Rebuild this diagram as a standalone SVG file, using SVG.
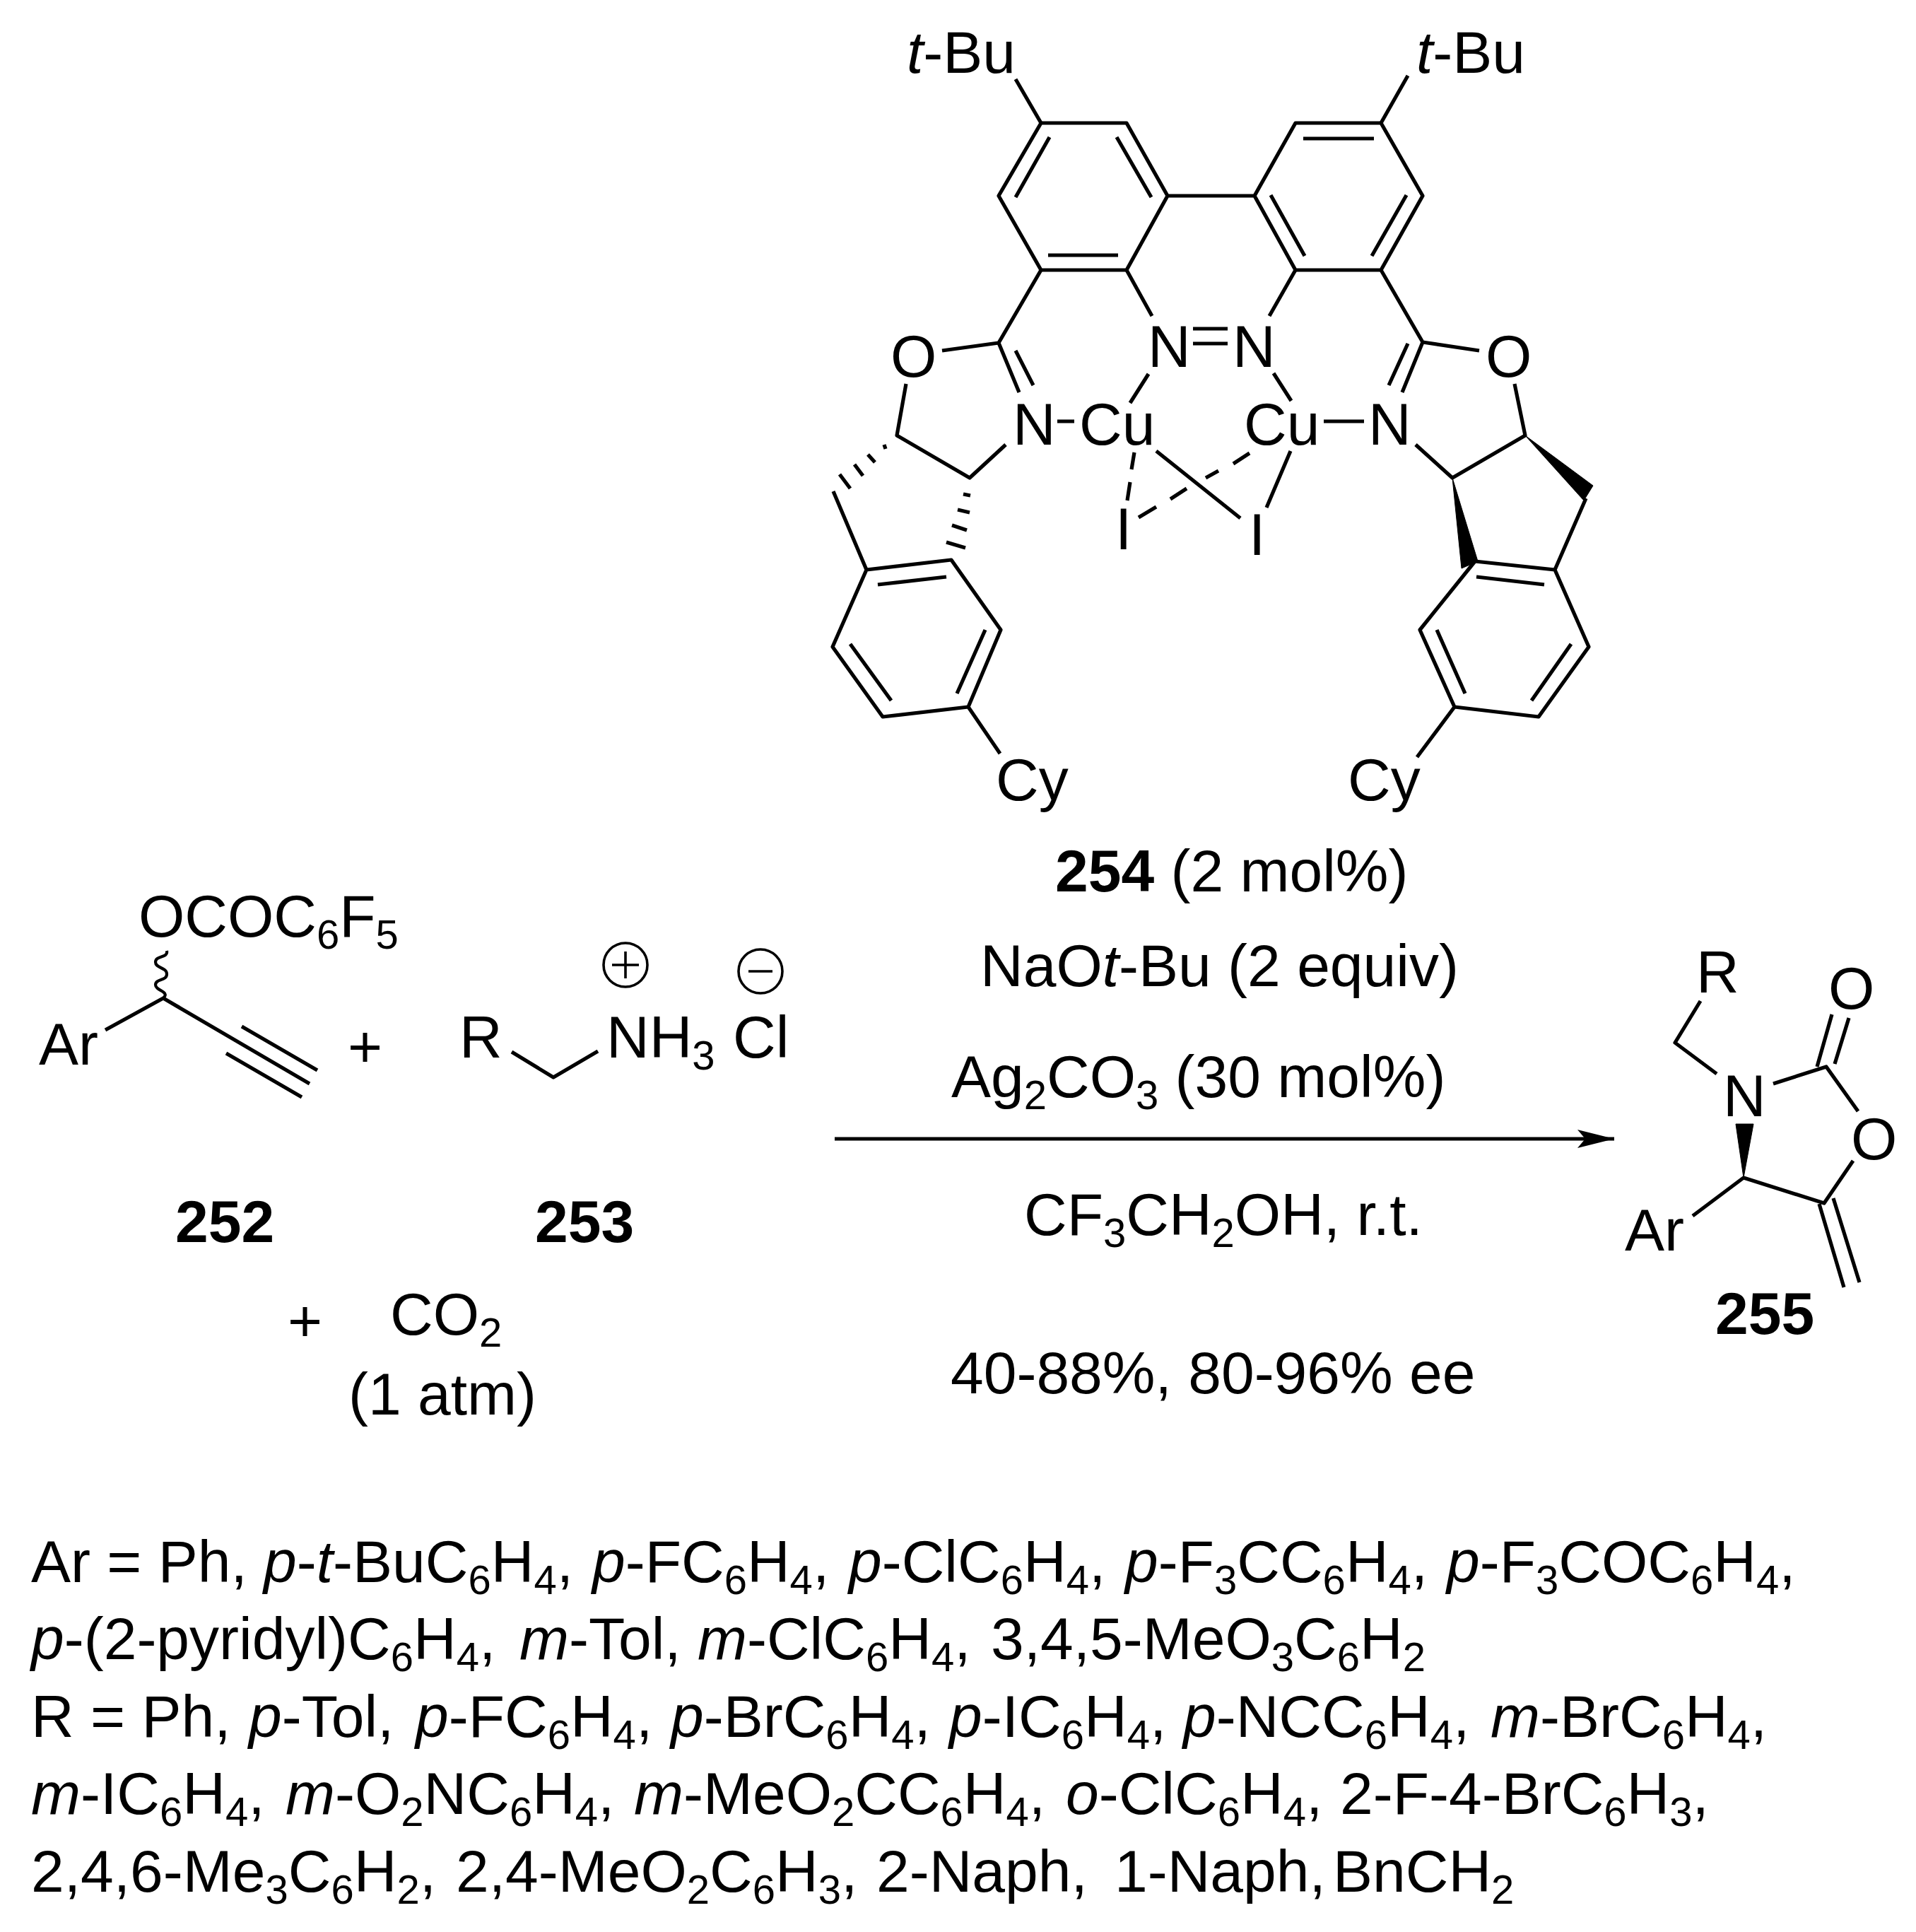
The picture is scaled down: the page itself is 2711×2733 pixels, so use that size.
<svg xmlns="http://www.w3.org/2000/svg" width="2711" height="2733" viewBox="0 0 2711 2733">
<style>
text{font-family:"Liberation Sans",Arial,sans-serif;font-size:84px;fill:#000;white-space:pre}
.s{font-size:58px;baseline-shift:-17px}
.i{font-style:italic}
.bd{font-weight:bold}
.b{fill:none;stroke:#000;stroke-width:5.2;stroke-linecap:butt;stroke-linejoin:round}
.t{stroke-width:3.6}
.w{fill:#000;stroke:#000;stroke-width:1;stroke-linejoin:round}
</style>
<defs>
<marker id="ah" markerUnits="userSpaceOnUse" markerWidth="56" markerHeight="30" refX="52" refY="15" orient="auto"><path d="M0 2L52 15L0 28L11 15Z" fill="#000"/></marker>
</defs>
<rect width="2711" height="2733" fill="#fff"/>
<g id="catalyst-254">
<path class="b" d="M1473 174H1594L1652 277L1594 382H1473L1413 277ZM1652 277H1775L1833 174H1954L2013 277L1954 382H1833L1775 277"/>
<path class="b" d="M1485 194L1437 279M1580 194L1629 279M1483 361H1582M1844 196H1944M1798 276L1846 362M1990 276L1941 362"/>
<path class="b" d="M1473 174L1437 112M1954 174L1992 107M1473 382L1413 485L1333 496M1594 382L1630 447M1833 382L1796 447M1954 382L2013 484L2093 496"/>
<path class="b" d="M1413 485L1442 555M1437 496L1462 545M2013 484L1984 555M1992 486L1965 545"/>
<path class="b" d="M1688 465H1737M1688 486H1737M1625 529L1599 570M1802 528L1827 567M1496 596H1520M1873 596H1930"/>
<path class="b" d="M1282 543L1269 616L1372 676L1423 629M1179 695L1226 806L1346 792L1416 891L1370 1000L1249 1014L1178 915L1226 806"/>
<path class="b" d="M1242 827L1339 816M1394 891L1354 981M1261 991L1203 911M1370 1000L1415 1066"/>
<path class="b" d="M1251 629L1253 635M1228 643L1238 654M1209 657L1221 673M1188 671L1203 691M1363 699L1373 701M1355 721L1372 725M1347 743L1368 750M1339 767L1366 775"/>
<path class="b" d="M1605 640L1601 664M1599 682L1595 708M1636 638L1755 733M1768 641L1745 656M1724 666L1706 676M1679 691L1656 706M1636 717L1611 732M1826 638L1792 718"/>
<path class="b" d="M2003 629L2055 676L2158 616L2143 543M2244 705L2200 806L2087 794L2009 891L2058 1000L2177 1014L2248 915L2200 806"/>
<path class="b" d="M2089 816L2185 827M2223 911L2167 991M2033 891L2073 981M2058 1000L2005 1071"/>
<path class="w" d="M2158 616L2254 687L2241 708ZM2055 676L2091 794L2068 804Z"/>
<text x="1283" y="103"><tspan class="i">t</tspan>-Bu</text>
<text x="2004" y="103"><tspan class="i">t</tspan>-Bu</text>
<text x="1260" y="533">O</text><text x="2102" y="533">O</text>
<text x="1624" y="519">N</text><text x="1744" y="519">N</text>
<text x="1433" y="629">N</text><text x="1527" y="629">Cu</text>
<text x="1760" y="629">Cu</text><text x="1936" y="629">N</text>
<text x="1578" y="777">I</text><text x="1767" y="785">I</text>
<text x="1409" y="1132">Cy</text><text x="1907" y="1132">Cy</text>
</g>
<g id="reactant-252">
<path class="b" d="M149 1457L231 1412L438 1533M342 1452L449 1514M320 1490L427 1552"/>
<path class="b" style="stroke-width:4.2" d="M231 1412C241 1402 220 1402 220 1393C220 1384 236 1388 236 1378C236 1368 220 1370 220 1361C220 1351 238 1356 236 1345"/>
<text x="196" y="1325">OCOC<tspan class="s">6</tspan>F<tspan class="s">5</tspan></text>
<text x="55" y="1506">Ar</text>
<text x="248" y="1757" class="bd">252</text>
</g>
<text id="plus-1" x="492" y="1509">+</text>
<g id="reactant-253">
<path class="b" d="M724 1488L783 1524L846 1487"/>
<circle class="b t" cx="885" cy="1365" r="31"/><path class="b t" d="M866 1365H904M885 1346V1384"/>
<circle class="b t" cx="1076" cy="1374" r="31"/><path class="b t" d="M1059 1374H1093"/>
<text x="650" y="1496">R</text>
<text x="858" y="1496">NH<tspan class="s">3</tspan></text>
<text x="1037" y="1496">Cl</text>
<text x="757" y="1757" class="bd">253</text>
</g>
<g id="co2">
<text x="407" y="1897">+</text>
<text x="552" y="1888">CO<tspan class="s">2</tspan></text>
<text x="493" y="2001">(1 atm)</text>
</g>
<g id="connectors">
<path d="M1181 1611H2284" fill="none" stroke="#000" stroke-width="5" marker-end="url(#ah)"/>
</g>
<g id="conditions">
<text x="1493" y="1261"><tspan class="bd">254</tspan> (2 mol%)</text>
<text x="1387" y="1395">NaO<tspan class="i">t</tspan>-Bu (2 equiv)</text>
<text x="1346" y="1552">Ag<tspan class="s">2</tspan>CO<tspan class="s">3</tspan> (30 mol%)</text>
<text x="1449" y="1747">CF<tspan class="s">3</tspan>CH<tspan class="s">2</tspan>OH, r.t.</text>
<text x="1345" y="1971">40-88%, 80-96% ee</text>
</g>
<g id="product-255">
<path class="b" d="M2406 1416L2370 1475L2429 1519M2509 1533L2584 1509L2629 1572M2622 1642L2581 1702L2467 1666L2395 1720"/>
<path class="b" d="M2571 1509L2592 1435M2596 1505L2616 1440M2574 1703L2609 1821M2594 1695L2631 1814"/>
<path class="w" d="M2467 1666L2456 1590H2481Z"/>
<text x="2400" y="1404">R</text>
<text x="2587" y="1427">O</text>
<text x="2438" y="1579">N</text>
<text x="2619" y="1640">O</text>
<text x="2299" y="1769">Ar</text>
<text x="2427" y="1887" class="bd">255</text>
</g>
<g id="substituents">
<text y="2238"><tspan x="44">Ar = Ph,</tspan><tspan x="373" class="i">p</tspan>-<tspan class="i">t</tspan>-BuC<tspan class="s">6</tspan>H<tspan class="s">4</tspan>,<tspan x="838" class="i">p</tspan>-FC<tspan class="s">6</tspan>H<tspan class="s">4</tspan>,<tspan x="1201" class="i">p</tspan>-ClC<tspan class="s">6</tspan>H<tspan class="s">4</tspan>,<tspan x="1592" class="i">p</tspan>-F<tspan class="s">3</tspan>CC<tspan class="s">6</tspan>H<tspan class="s">4</tspan>,<tspan x="2047" class="i">p</tspan>-F<tspan class="s">3</tspan>COC<tspan class="s">6</tspan>H<tspan class="s">4</tspan>,</text>
<text y="2347"><tspan x="44" class="i">p</tspan>-(2-pyridyl)C<tspan class="s">6</tspan>H<tspan class="s">4</tspan>,<tspan x="735" class="i">m</tspan>-Tol,<tspan x="987" class="i">m</tspan>-ClC<tspan class="s">6</tspan>H<tspan class="s">4</tspan>,<tspan x="1402">3,4,5-MeO</tspan><tspan class="s">3</tspan>C<tspan class="s">6</tspan>H<tspan class="s">2</tspan></text>
<text y="2457"><tspan x="44">R = Ph,</tspan><tspan x="352" class="i">p</tspan>-Tol,<tspan x="588" class="i">p</tspan>-FC<tspan class="s">6</tspan>H<tspan class="s">4</tspan>,<tspan x="949" class="i">p</tspan>-BrC<tspan class="s">6</tspan>H<tspan class="s">4</tspan>,<tspan x="1343" class="i">p</tspan>-IC<tspan class="s">6</tspan>H<tspan class="s">4</tspan>,<tspan x="1674" class="i">p</tspan>-NCC<tspan class="s">6</tspan>H<tspan class="s">4</tspan>,<tspan x="2109" class="i">m</tspan>-BrC<tspan class="s">6</tspan>H<tspan class="s">4</tspan>,</text>
<text y="2566"><tspan x="44" class="i">m</tspan>-IC<tspan class="s">6</tspan>H<tspan class="s">4</tspan>,<tspan x="404" class="i">m</tspan>-O<tspan class="s">2</tspan>NC<tspan class="s">6</tspan>H<tspan class="s">4</tspan>,<tspan x="897" class="i">m</tspan>-MeO<tspan class="s">2</tspan>CC<tspan class="s">6</tspan>H<tspan class="s">4</tspan>,<tspan x="1508" class="i">o</tspan>-ClC<tspan class="s">6</tspan>H<tspan class="s">4</tspan>,<tspan x="1896">2-F-4-BrC</tspan><tspan class="s">6</tspan>H<tspan class="s">3</tspan>,</text>
<text y="2676"><tspan x="44">2,4,6-Me</tspan><tspan class="s">3</tspan>C<tspan class="s">6</tspan>H<tspan class="s">2</tspan>,<tspan x="645">2,4-MeO</tspan><tspan class="s">2</tspan>C<tspan class="s">6</tspan>H<tspan class="s">3</tspan>,<tspan x="1240">2-Naph,</tspan><tspan x="1577">1-Naph,</tspan><tspan x="1886">BnCH</tspan><tspan class="s">2</tspan></text>
</g>
</svg>
